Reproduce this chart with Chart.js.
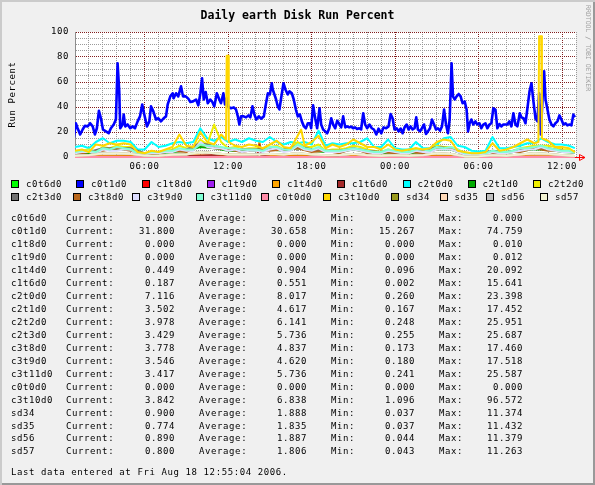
<!DOCTYPE html>
<html>
<head>
<meta charset="utf-8">
<script src="https://cdn.jsdelivr.net/npm/chart.js@4.4.1/dist/chart.umd.min.js"></script>
<style>
  body { margin: 0; background: #f0f0f0; }
  #wrap {
    position: relative; width: 595px; height: 485px; background: #f0f0f0; overflow: hidden;
    box-shadow: inset 2px 2px 0 #cbcbcb, inset -2px -2px 0 #999;
    font: 9px "DejaVu Sans Mono", monospace; letter-spacing: 0.6px; color: #000;
  }
  #wrap canvas { position: absolute; left: 0; top: 0; }
  .t { position: absolute; white-space: pre; line-height: 12px; height: 12px; }
  .r { text-align: right; }
  .box { position: absolute; width: 6px; height: 6px; border: 1px solid #000; }
  #title { position: absolute; left: 0; width: 595px; top: 8px; text-align: center;
    font-weight: bold; font-size: 11.5px; letter-spacing: 0; line-height: 14px; }
  #mark { position: absolute; left: 584px; top: 5px; writing-mode: vertical-rl;
    font-size: 6.5px; letter-spacing: 0; color: #a0a0a0; }
</style>
</head>
<body>
<div id="wrap">
  <canvas id="myChart" width="595" height="485"></canvas>
  <div id="title">Daily earth Disk Run Percent</div>
  <div id="mark">RRDTOOL / TOBI OETIKER</div>
</div>
<script>
const names = ["c0t6d0", "c0t1d0", "c1t8d0", "c1t9d0", "c1t4d0", "c1t6d0", "c2t0d0", "c2t1d0", "c2t2d0", "c2t3d0",
  "c3t8d0", "c3t9d0", "c3t11d0", "c0t0d0", "c3t10d0", "sd34", "sd35", "sd56", "sd57"];

const colors = ["#00ff00", "#0000ff", "#ff0000", "#a020f0", "#ffa500", "#a52a2a", "#00ffff", "#00aa00", "#eeee00", "#707070",
  "#b8661b", "#dcdcff", "#7fffd4", "#ff8ca8", "#ffd700", "#9a9a1e", "#ffdab9", "#bebebe", "#f2f2d2"];

// stats table
const statCurrent = [0, 31.8, 0, 0, 0.449, 0.187, 7.116, 3.502, 3.978, 3.429, 3.778, 3.546, 3.417, 0, 3.842, 0.9, 0.774, 0.89, 0.8];
const statAverage = [0, 30.658, 0, 0, 0.904, 0.551, 8.017, 4.617, 6.141, 5.736, 4.837, 4.62, 5.736, 0, 6.838, 1.888, 1.835, 1.887, 1.806];
const statMin = [0, 15.267, 0, 0, 0.096, 0.002, 0.26, 0.167, 0.248, 0.255, 0.173, 0.18, 0.241, 0, 1.096, 0.037, 0.037, 0.044, 0.043];
const statMax = [0, 74.759, 0.01, 0.012, 20.092, 15.641, 23.398, 17.452, 25.951, 25.687, 17.46, 17.518, 25.587, 0, 96.572, 11.374, 11.432, 11.379, 11.263];

// x values are hours since midnight of the first day
const tEnds = [0.92, 36.92];
const c0t6d0 = [0, 0];
const c1t8d0 = [0, 0];
const c1t9d0 = [0, 0];
const c0t0d0 = [0, 0];

const tBlue = [
  0.92, 1.06, 1.19, 1.37, 1.55, 1.71, 1.91, 2.09, 2.27, 2.43,
  2.57, 2.72, 2.86, 3.01, 3.22, 3.42, 3.58, 3.78, 3.94, 4.06,
  4.18, 4.25, 4.42, 4.50, 4.61, 4.78, 4.97, 5.14, 5.31, 5.50,
  5.67, 5.83, 5.98, 6.17, 6.34, 6.46, 6.63, 6.82, 6.99, 7.18,
  7.37, 7.54, 7.66, 7.85, 8.02, 8.09, 8.26, 8.42, 8.62, 8.76,
  8.96, 9.14, 9.29, 9.48, 9.70, 9.86, 10.01, 10.13, 10.25, 10.39,
  10.54, 10.72, 10.87, 11.01, 11.19, 11.37, 11.49, 11.66, 11.78, 11.90,
  12.02, 12.21, 12.41, 12.57, 12.70, 12.81, 12.93, 13.13, 13.29, 13.46,
  13.60, 13.75, 13.89, 14.03, 14.21, 14.37, 14.57, 14.71, 14.86, 15.00,
  15.14, 15.21, 15.33, 15.45, 15.57, 15.69, 15.81, 15.98, 16.12, 16.29,
  16.41, 16.58, 16.72, 16.87, 17.01, 17.16, 17.30, 17.45, 17.59, 17.73,
  17.88, 17.97, 18.11, 18.26, 18.40, 18.57, 18.69, 18.83, 18.98, 19.12,
  19.27, 19.41, 19.55, 19.70, 19.84, 19.98, 20.13, 20.27, 20.42, 20.56,
  20.70, 20.84, 20.99, 21.13, 21.27, 21.42, 21.56, 21.71, 21.85, 21.99,
  22.16, 22.33, 22.48, 22.65, 22.81, 23.01, 23.17, 23.36, 23.53, 23.68,
  23.82, 23.96, 24.11, 24.25, 24.40, 24.54, 24.68, 24.83, 24.97, 25.11,
  25.26, 25.40, 25.52, 25.64, 25.79, 25.93, 26.08, 26.22, 26.36, 26.51,
  26.65, 26.80, 26.94, 27.08, 27.23, 27.37, 27.52, 27.66, 27.80, 27.92,
  28.06, 28.16, 28.28, 28.42, 28.57, 28.71, 28.85, 29.00, 29.14, 29.24,
  29.36, 29.48, 29.62, 29.77, 29.91, 30.06, 30.20, 30.34, 30.49, 30.63,
  30.78, 30.92, 31.06, 31.21, 31.35, 31.50, 31.64, 31.78, 31.93, 32.07,
  32.21, 32.36, 32.50, 32.65, 32.79, 32.96, 33.08, 33.23, 33.37, 33.51,
  33.66, 33.80, 33.94, 34.09, 34.23, 34.35, 34.47, 34.59, 34.71, 34.81,
  34.95, 35.09, 35.24, 35.38, 35.52, 35.67, 35.81, 35.95, 36.10, 36.24,
  36.38, 36.53, 36.67, 36.81, 36.92
];
const c0t1d0 = [
  15.3, 27, 23, 18, 22, 25, 24.5, 27, 24.5, 18,
  23, 37, 31, 22, 20.5, 19, 23, 26, 30, 75,
  52.5, 23, 26, 34, 24.5, 26, 23, 24.5, 23, 28.5,
  32.5, 42, 34, 24.5, 28.5, 40.5, 36.5, 30, 31, 28.5,
  31, 32.5, 42, 48.5, 51, 47, 51, 48.5, 56.5, 48.5,
  48.5, 46.7, 44, 44.5, 46, 41.3, 51, 63, 46, 52,
  43, 46, 44, 40.5, 51, 46, 43, 51, 42, 47,
  40, 39, 39.7, 38, 32.5, 26, 32.5, 32.5, 31.7, 33.3,
  31.7, 40.5, 34, 30, 32.5, 30.7, 32.5, 42, 51, 50,
  59, 54, 50, 46, 40.5, 38, 47, 59, 54, 50,
  52.5, 51, 46, 38, 32.5, 34, 28.5, 24.5, 23, 27,
  27, 23, 41.3, 31, 23, 39, 26, 22, 20.5, 19,
  23, 31, 26, 23, 29, 26.5, 23.7, 32.5, 23.7, 24.5,
  23.7, 24.3, 23, 23.7, 22.4, 23, 22, 35, 26, 23,
  26, 23, 22, 18, 22.7, 19, 23.7, 23, 24.5, 34.4,
  31, 22, 23, 20.5, 22.7, 19, 23.7, 26, 22, 24.5,
  22, 23, 31.7, 22, 20.5, 23, 26, 18.4, 20.5, 23,
  30, 26, 22, 23, 21, 24.5, 38, 26, 19, 30,
  75, 48.5, 46, 48.5, 50.4, 48.5, 43, 44.5, 38, 20.5,
  27, 30, 26, 28.5, 26, 27, 23, 26, 27, 23,
  26, 27, 39, 38, 23, 26.4, 24.5, 26, 26, 26,
  28.5, 24.5, 35, 26, 24.5, 35, 31.7, 31, 27, 39,
  52.5, 59, 44.5, 31, 28.5, 51, 18, 46, 68.5, 46,
  38, 30, 26, 24.5, 27, 28.5, 33.3, 30, 26, 27,
  25.3, 26, 25.3, 33.9, 31.8
];

const tHalf = [
  1, 1.5, 2, 2.5, 3, 3.5, 4, 4.5, 5, 5.5,
  6, 6.5, 7, 7.5, 8, 8.5, 9, 9.5, 10, 10.5,
  11, 11.5, 12, 12.5, 13, 13.5, 14, 14.5, 15, 15.5,
  16, 16.5, 17, 17.5, 18, 18.5, 19, 19.5, 20, 20.5,
  21, 21.5, 22, 22.5, 23, 23.5, 24, 24.5, 25, 25.5,
  26, 26.5, 27, 27.5, 28, 28.5, 29, 29.5, 30, 30.5,
  31, 31.5, 32, 32.5, 33, 33.5, 34, 34.5, 35, 35.5,
  36, 36.5, 36.92
];
const c2t0d0 = [
  8, 9, 7, 12, 15, 11, 13, 13, 12, 6,
  6, 12, 8, 9, 11, 12, 11, 12, 23, 15,
  13, 16, 12, 14, 12, 15, 13, 12, 16, 12,
  10, 12, 11, 12, 10, 21, 9, 11, 10, 11,
  11, 12, 15, 8, 8, 14, 7, 6, 6, 12,
  7, 7, 10, 15, 16, 9, 8, 5, 4.5, 5,
  16, 7, 7, 8, 9, 11, 11, 15, 12, 10,
  10, 9, 7.1
];
const c2t2d0 = [
  4, 5, 6, 4, 8, 7, 9, 8, 8, 3,
  3, 4, 4, 5, 6, 9, 7, 6, 14, 10,
  26, 12, 7, 8, 6, 7, 7, 6, 8, 9,
  6, 7, 12, 8, 8, 10, 5, 6, 6, 7,
  9, 8, 6, 5, 4, 6, 5, 4, 4, 7,
  5, 6, 9, 8, 8, 6, 3, 3, 2, 2,
  5, 4, 4, 5, 7, 8, 9, 9, 9, 8,
  6, 6, 4
];
const c3t9d0 = [
  3, 4, 4, 3, 6, 5, 5, 6, 6, 2,
  2, 3, 3, 4, 4, 6, 5, 5, 12, 8,
  7, 7, 5, 6, 4, 5, 5, 4, 6, 7,
  4, 5, 9, 6, 5, 7, 4, 4, 4, 5,
  6, 5, 4, 3, 3, 5, 4, 3, 3, 5,
  4, 4, 6, 6, 6, 4, 2, 2, 2, 2,
  4, 3, 3, 4, 5, 6, 6, 8, 6, 5,
  4, 4, 3.5
];
const c3t11d0 = [
  4, 5, 5, 4, 7, 6, 8, 7, 6, 3,
  3, 4, 4, 5, 5, 7, 6, 6, 10, 9,
  9, 8, 7, 7, 6, 6, 6, 5, 8, 8,
  6, 6, 10, 7, 6, 8, 5, 5, 5, 6,
  7, 6, 5, 4, 4, 6, 5, 4, 4, 6,
  6, 5, 8, 7, 8, 6, 3, 3, 3, 3,
  5, 4, 4, 5, 7, 7, 8, 9, 7, 6,
  5, 5, 3.4
];

const tGold = [
  1, 1.5, 2, 2.5, 3, 3.5, 4, 4.5, 5, 5.5,
  6, 6.5, 7, 7.5, 8, 8.5, 9, 9.5, 10, 10.5,
  11, 11.5, 11.85, 11.9, 12, 12.05, 12.5, 13, 13.5, 14,
  14.5, 15, 15.5, 16, 16.5, 17, 17.25, 17.5, 18, 18.5,
  19, 19.5, 20, 20.5, 21, 21.5, 22, 22.5, 23, 23.5,
  24, 24.5, 25, 25.5, 26, 26.5, 27, 27.5, 28, 28.5,
  29, 29.5, 30, 30.5, 31, 31.5, 32, 32.5, 33, 33.5,
  34, 34.3, 34.35, 34.5, 34.55, 35, 35.5, 36, 36.5, 36.92
];
const c3t10d0 = [
  5, 6, 4, 10, 9, 11, 10, 11, 10, 4,
  3, 5, 4, 6, 8, 18, 9, 8, 20, 12,
  10, 18, 14, 81, 81, 12, 9, 8, 10, 9,
  7, 10, 13, 8, 7, 17, 22, 9, 12, 17,
  7, 10, 8, 10, 14, 11, 8, 8, 6, 10,
  6, 5, 6, 7, 6, 7, 12, 14, 13, 5,
  4, 3, 3, 4, 11, 5, 6, 8, 11, 14,
  11, 12, 96.6, 96.6, 15, 13, 8, 8, 7, 3.8
];

const tHour = [
  1, 2, 3, 4, 5, 6, 7, 8, 9, 10,
  11, 12, 13, 14, 15, 16, 17, 18, 19, 20,
  21, 22, 23, 24, 25, 26, 27, 28, 29, 30,
  31, 32, 33, 34, 35, 36, 36.92
];
const c2t1d0 = [3, 3, 6, 6, 6, 2, 3, 4, 5, 8, 7, 5, 5, 5, 6, 5, 7, 5, 4, 4, 6, 4, 3, 4, 3, 4, 6, 6, 2, 2, 4, 3, 5, 6, 6, 4, 3.5];
const c2t3d0 = [4, 4, 7, 7, 7, 3, 3, 5, 6, 11, 9, 6, 6, 6, 7, 6, 9, 6, 5, 5, 7, 5, 4, 5, 4, 5, 8, 7, 3, 2, 5, 4, 6, 7, 7, 5, 3.4];
const c3t8d0 = [2, 4, 5, 7, 5, 2, 3, 5, 4, 10, 7, 6, 4, 6, 5, 6, 7, 4, 5, 3, 7, 3, 4, 3, 4, 3, 6, 7, 2, 3, 3, 4, 4, 7, 5, 5, 3.8];
const sd34 = [1, 1.5, 3, 3, 2.5, 1, 1, 2, 2, 4, 3, 2, 2, 2, 2.5, 2, 3, 2, 1.5, 1.5, 2.5, 1.5, 1, 1.5, 1, 1.5, 3, 2.5, 0.5, 0.5, 1.5, 1, 2, 3, 2.5, 1.5, 0.9];
const sd35 = [1, 1.4, 2.8, 3.1, 2.4, 0.9, 1.1, 1.9, 2.1, 3.8, 3.1, 1.9, 2, 2.1, 2.4, 1.9, 3.2, 2, 1.4, 1.5, 2.4, 1.6, 1, 1.4, 1.1, 1.4, 2.9, 2.6, 0.5, 0.6, 1.4, 1.1, 1.9, 2.9, 2.4, 1.6, 0.8];
const sd56 = [1.1, 1.6, 3.2, 2.9, 2.6, 1, 0.9, 2.1, 1.9, 4.2, 2.9, 2.1, 1.9, 2.2, 2.6, 2.1, 3.1, 1.9, 1.6, 1.4, 2.6, 1.5, 1.1, 1.6, 0.9, 1.6, 3.1, 2.4, 0.6, 0.5, 1.6, 0.9, 2.1, 3.1, 2.6, 1.4, 0.9];
const sd57 = [0.9, 1.5, 2.9, 3, 2.5, 1.1, 1, 1.8, 2, 4, 3, 2, 2.1, 1.9, 2.5, 2, 3, 2.1, 1.5, 1.6, 2.5, 1.4, 1, 1.5, 1, 1.5, 3, 2.5, 0.5, 0.5, 1.5, 1, 2, 3, 2.5, 1.5, 0.8];

const tOrange = [0.92, 5, 10, 14.1, 14.25, 14.4, 20, 28, 36.92];
const c1t4d0 = [0.5, 0.8, 1.2, 1, 13, 1, 0.8, 1, 0.45];
const tBrown = [0.92, 8, 12, 12.5, 13, 14.1, 14.25, 14.4, 15, 20, 36.92];
const c1t6d0 = [0.2, 0.3, 2, 1.5, 2, 1, 10, 1, 0.5, 0.3, 0.19];

const series = [
  [tEnds, c0t6d0], [tBlue, c0t1d0], [tEnds, c1t8d0], [tEnds, c1t9d0], [tOrange, c1t4d0],
  [tBrown, c1t6d0], [tHalf, c2t0d0], [tHour, c2t1d0], [tHalf, c2t2d0], [tHour, c2t3d0],
  [tHour, c3t8d0], [tHalf, c3t9d0], [tHalf, c3t11d0], [tEnds, c0t0d0], [tGold, c3t10d0],
  [tHour, sd34], [tHour, sd35], [tHour, sd56], [tHour, sd57]
];

const gridHours = [];
for (let h = 1; h <= 37; h++) gridHours.push(h);

const font = { family: "DejaVu Sans Mono", size: 9 };

const rrdLook = {
  id: "rrdLook",
  beforeDraw(chart) {
    const { ctx, chartArea: a } = chart;
    ctx.letterSpacing = "0.6px";
    ctx.save();
    ctx.fillStyle = "#ffffff";
    ctx.fillRect(a.left, a.top, a.right - a.left, a.bottom - a.top);
    ctx.restore();
  },
  afterDraw(chart) {
    const { ctx, chartArea: a } = chart;
    const y = Math.round(a.bottom) + 0.5;
    ctx.save();
    ctx.strokeStyle = "#ff0000";
    ctx.lineWidth = 1;
    ctx.beginPath();
    ctx.moveTo(a.right, y);
    ctx.lineTo(a.right + 9, y);
    ctx.moveTo(a.right + 3.5, y - 3);
    ctx.lineTo(a.right + 9, y);
    ctx.lineTo(a.right + 3.5, y + 3);
    ctx.closePath();
    ctx.stroke();
    ctx.restore();
  }
};

const ctx = document.getElementById("myChart");

new Chart(ctx, {
  type: "line",
  data: {
    datasets: series.map(([t, v], i) => ({
      label: names[i],
      data: t.map((x, j) => ({ x: x, y: v[j] })),
      borderColor: colors[i],
      backgroundColor: colors[i],
      borderWidth: names[i] === "c0t1d0" ? 2.6 : 2,
      borderJoinStyle: "round",
      pointRadius: 0,
      tension: 0,
      fill: false,
      order: series.length - i,
      clip: { left: 0, top: 0, right: 0, bottom: 1 },
    })),
  },
  options: {
    responsive: false,
    animation: false,
    events: [],
    layout: { padding: { top: 32, right: 19, bottom: 308, left: 0 } },
    plugins: { legend: { display: false }, tooltip: { enabled: false } },
    scales: {
      x: {
        type: "linear",
        min: 1,
        max: 37,
        afterBuildTicks: (s) => { s.ticks = gridHours.map((v) => ({ value: v })); },
        afterFit: (s) => { s.height = 20; },
        grid: {
          drawTicks: false,
          color: (c) => (c.tick && c.tick.value % 6 === 0 ? "#821e1e" : "#9a9a9a"),
        },
        border: { color: "#ff0000", dash: [1, 1] },
        ticks: {
          autoSkip: false,
          maxRotation: 0,
          padding: 4,
          color: "#000",
          font: font,
          callback: (v) => (v % 6 === 0 ? String(v % 24).padStart(2, "0") + ":00" : ""),
        },
      },
      y: {
        min: 0,
        max: 100,
        ticks: {
          stepSize: 5,
          autoSkip: false,
          padding: 6,
          color: "#000",
          font: font,
          callback: (v) => (v % 20 === 0 ? String(v) : ""),
        },
        afterFit: (s) => { s.width = 75; },
        grid: {
          drawTicks: false,
          color: (c) => (c.tick && c.tick.value % 20 === 0 ? "#821e1e" : "#9a9a9a"),
        },
        border: { color: "#8c8c8c", dash: [1, 1] },
        title: {
          display: true,
          text: "Run Percent",
          color: "#000",
          font: font,
          padding: { top: 7, bottom: 0 },
        },
      },
    },
  },
  plugins: [rrdLook],
});

// legend and stats, rrdtool style
const wrap = document.getElementById("wrap");
const legendX = [11, 76, 141.5, 206.5, 272, 337, 402.5, 467.5, 533,
  11, 73, 132, 195.5, 261, 323, 391, 439.5, 486, 540];
const legendY = [183.5, 196.5];

function addText(txt, left, cy, width) {
  const d = document.createElement("div");
  d.className = "t" + (width ? " r" : "");
  d.textContent = txt;
  d.style.top = (cy - 6) + "px";
  if (width) {
    d.style.left = (left - width) + "px";
    d.style.width = width + "px";
  } else {
    d.style.left = left + "px";
  }
  wrap.appendChild(d);
}

names.forEach((n, i) => {
  const cy = legendY[i < 9 ? 0 : 1];
  const b = document.createElement("div");
  b.className = "box";
  b.style.left = legendX[i] + "px";
  b.style.top = (cy - 4) + "px";
  b.style.background = colors[i];
  wrap.appendChild(b);
  addText(n, legendX[i] + 15, cy);
});

names.forEach((n, i) => {
  const cy = 218.3 + i * 12.95;
  addText(n, 11, cy);
  addText("Current:", 66, cy);
  addText(statCurrent[i].toFixed(3), 175, cy, 60);
  addText("Average:", 199, cy);
  addText(statAverage[i].toFixed(3), 307, cy, 60);
  addText("Min:", 331, cy);
  addText(statMin[i].toFixed(3), 415, cy, 60);
  addText("Max:", 439, cy);
  addText(statMax[i].toFixed(3), 523, cy, 60);
});

addText("Last data entered at Fri Aug 18 12:55:04 2006.", 11, 471.5);
</script>
</body>
</html>
